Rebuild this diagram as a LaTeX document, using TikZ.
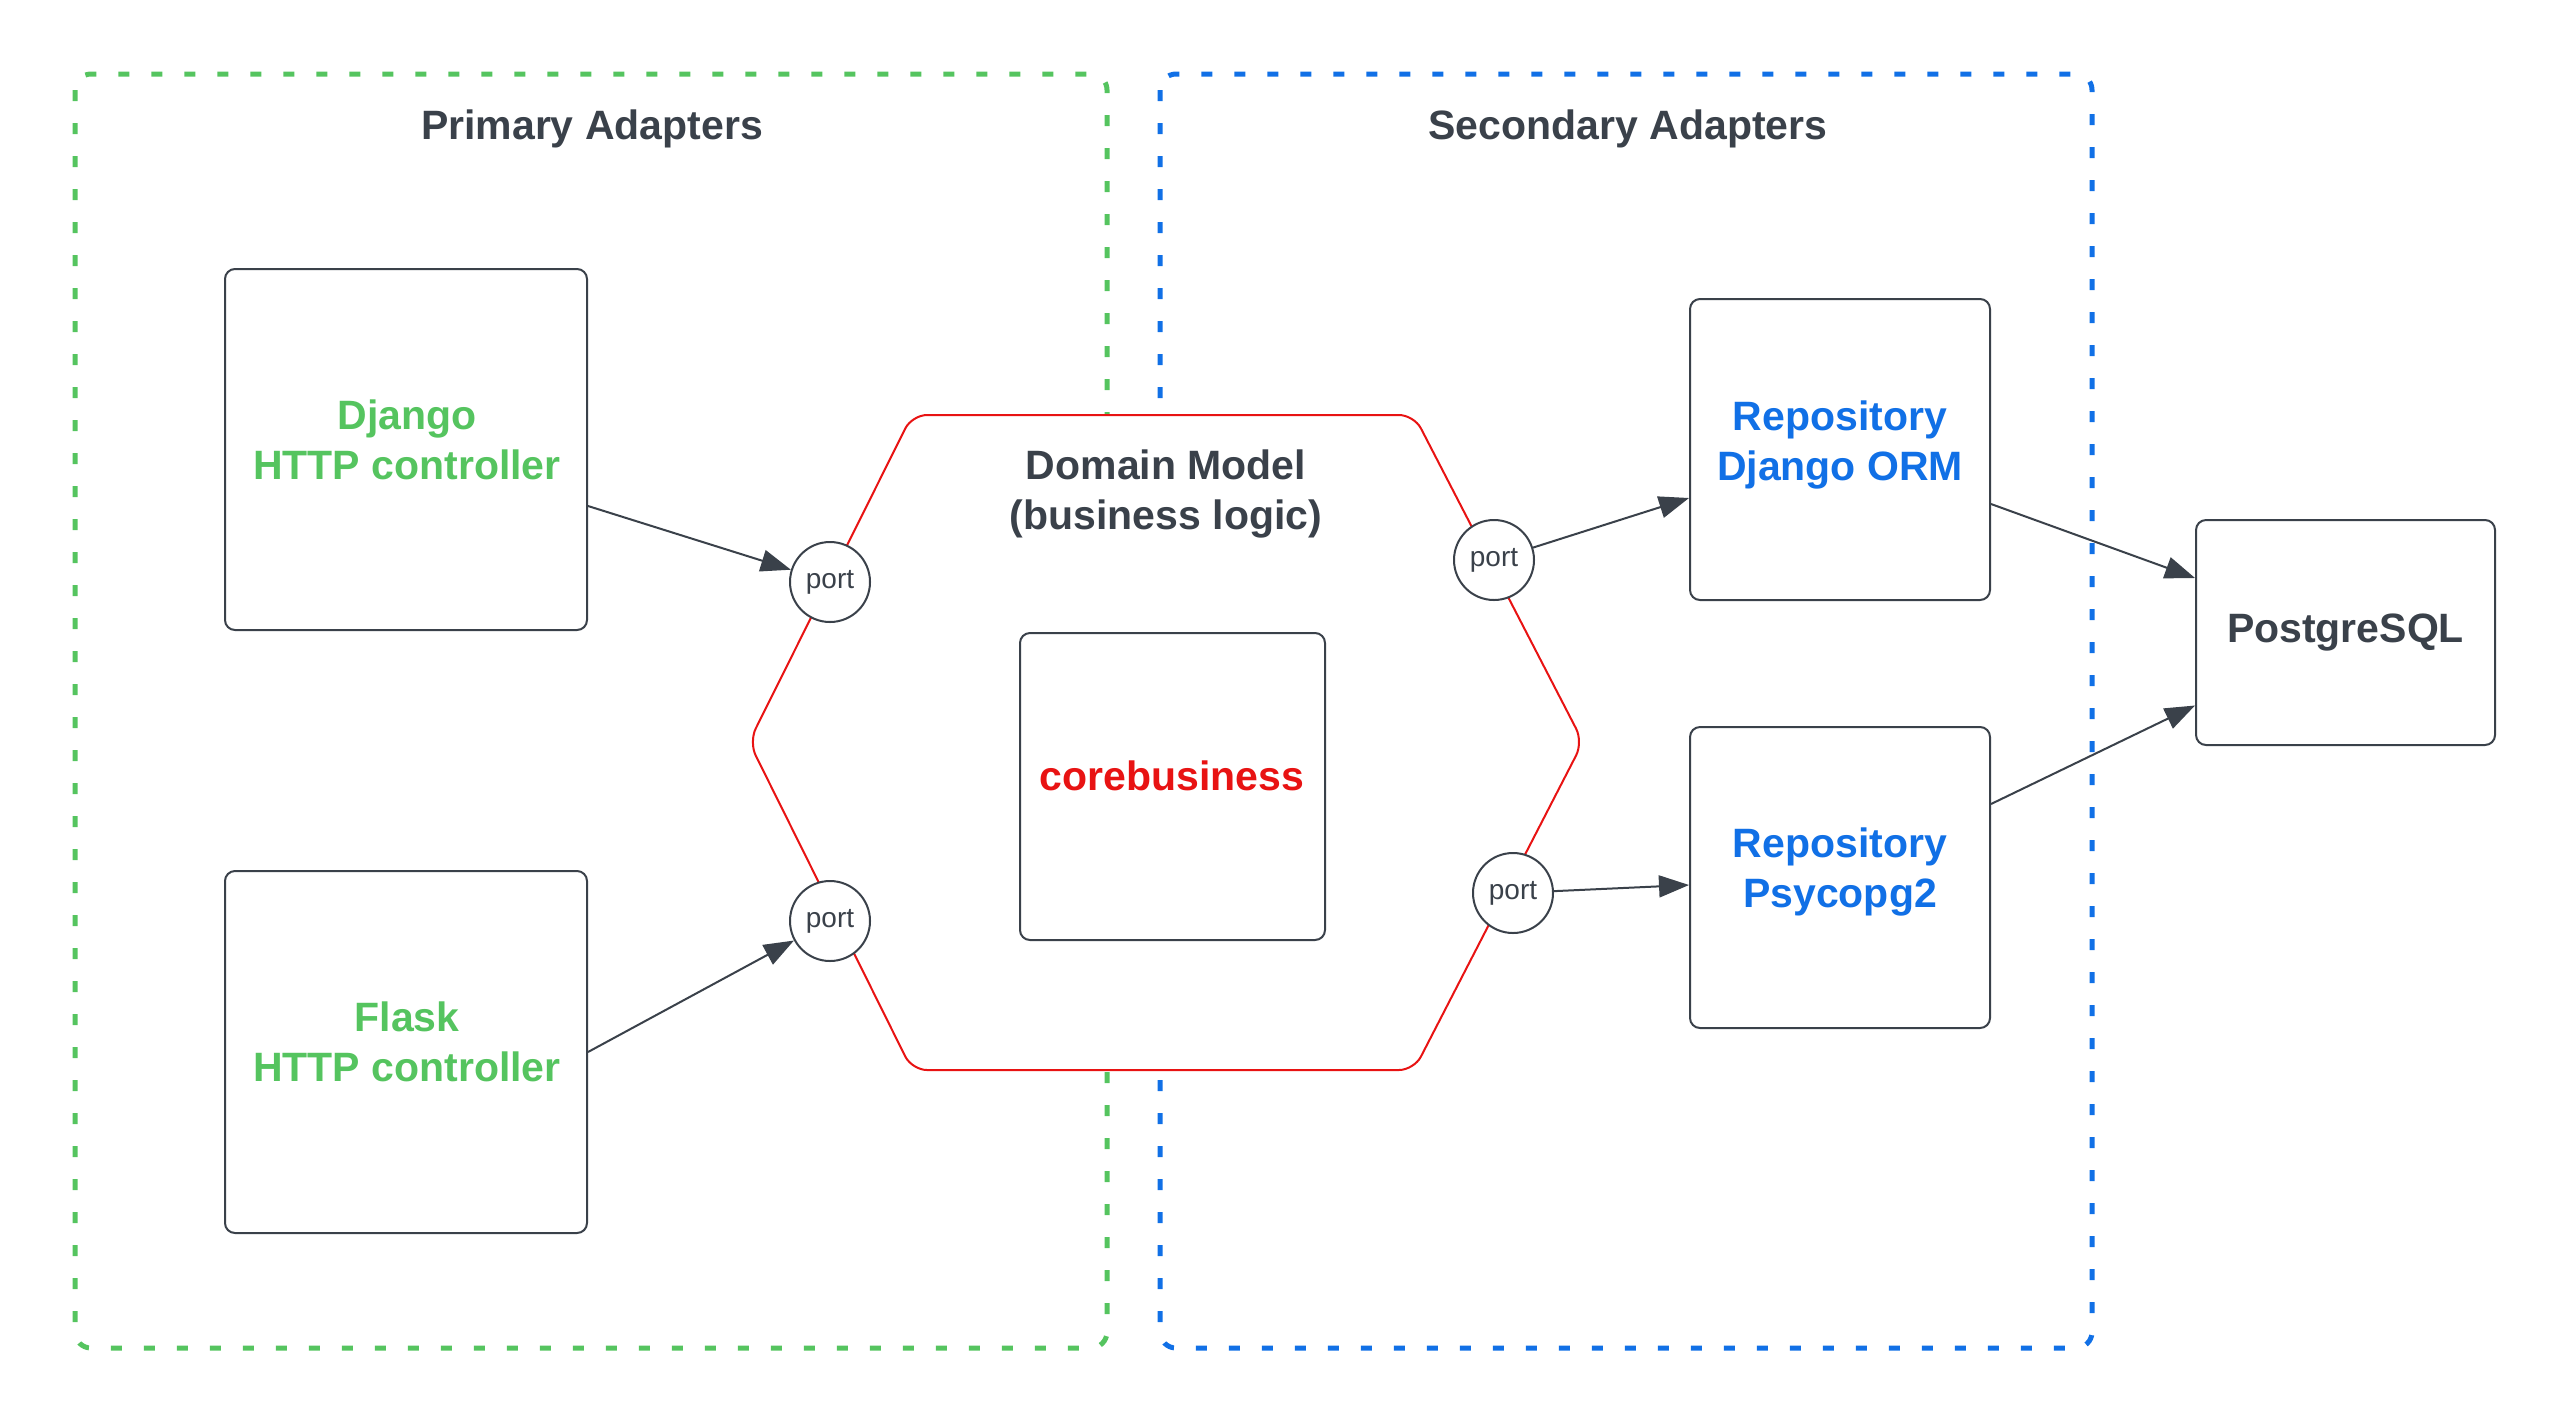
\documentclass[tikz,border=0pt]{standalone}
\usepackage{fontspec}
\setmainfont{Liberation Sans}
\usetikzlibrary{arrows.meta,calc}
\definecolor{dk}{HTML}{3A414A}
\definecolor{gr}{HTML}{55C45F}
\definecolor{bl}{HTML}{1170E6}
\definecolor{rd}{HTML}{E81313}
\begin{document}
\begin{tikzpicture}[x=1pt,y=-1pt,
  box/.style={draw=dk, line width=2pt, rounded corners=10pt, fill=white, inner sep=0pt},
  lbl/.style={font=\fontsize{41}{50}\selectfont\bfseries, align=center, inner sep=0pt},
  portnode/.style={circle, draw=dk, line width=2pt, fill=white, minimum size=80pt, inner sep=0pt, font=\fontsize{28}{34}\selectfont, text=dk},
  conn/.style={draw=dk, line width=2pt, -{Triangle[length=30pt,width=22pt]}},
  grp/.style={line width=5pt, rounded corners=16pt, dash pattern=on 11pt off 22pt}]

\useasboundingbox (0,0) rectangle (2571,1425);

% group frames
\draw[grp, draw=gr] (75,74) rectangle (1107,1348);
\draw[grp, draw=bl] (1160,74) rectangle (2092,1348);
\node[lbl, text=dk] (ptitle) at (592,129) {Primary Adapters};
\node[lbl, text=dk] (stitle) at (1628,129) {Secondary Adapters};

% hexagon (domain)
\draw[draw=rd, line width=2pt, fill=white, rounded corners=15pt]
  (912,415) -- (1414,415) -- (1583,742) -- (1414,1070) -- (912,1070) -- (749,742) -- cycle;
\node[lbl, text=dk] (domain) at (1166,494) {Domain Model\\(business logic)};

% core box
\node[box, minimum width=305pt, minimum height=307pt] (core) at (1172.5,786.5) {};
\node[lbl, text=rd] (coretxt) at (1172,776) {corebusiness};

% adapters
\node[box, minimum width=362pt, minimum height=361pt] (django) at (406,449.5) {};
\node[lbl, text=gr] (djangotxt) at (407,440) {Django\\HTTP controller};
\node[box, minimum width=362pt, minimum height=362pt] (flask) at (406,1052) {};
\node[lbl, text=gr] (flasktxt) at (407,1042) {Flask\\HTTP controller};

\node[box, minimum width=300pt, minimum height=301pt] (orm) at (1840,449.5) {};
\node[lbl, text=bl] (ormtxt) at (1840,445) {Repository\\Django ORM};
\node[box, minimum width=300pt, minimum height=301pt] (psy) at (1840,877.5) {};
\node[lbl, text=bl] (psytxt) at (1840,872) {Repository\\Psycopg2};

\node[box, minimum width=299pt, minimum height=225pt, lbl, text=dk] (pg) at (2345.5,632.5) {PostgreSQL};

% ports
\node[portnode] (p1) at (830,582) {port};
\node[portnode] (p2) at (830,921) {port};
\node[portnode] (p3) at (1494,560) {port};
\node[portnode] (p4) at (1513,893) {port};

% connectors
\draw[conn] ([yshift=-56.5pt]django.east) -- (p1);
\draw[conn] (flask.east) -- (p2);
\draw[conn] (p3) -- ([yshift=-48.5pt]orm.west);
\draw[conn] (p4) -- ([yshift=-7.5pt]psy.west);
\draw[conn] ([yshift=-54.5pt]orm.east) -- ([yshift=54.5pt]pg.west);
\draw[conn] ([yshift=73.5pt]psy.east) -- ([yshift=-73pt]pg.west);
\end{tikzpicture}
\end{document}
